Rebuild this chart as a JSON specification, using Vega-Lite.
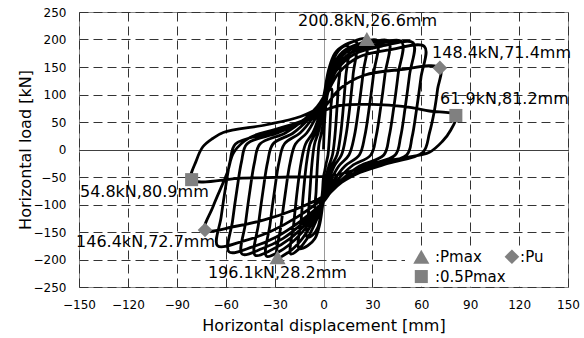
{
  "$schema": "https://vega.github.io/schema/vega-lite/v6.json",
  "width": 489,
  "height": 275,
  "autosize": {"type": "none"},
  "padding": {"left": 79, "top": 12, "right": 16, "bottom": 51},
  "background": "white",
  "config": {
    "view": {"stroke": "#888", "strokeWidth": 1},
    "font": "DejaVu Sans",
    "axis": {"labelOverlap": false, "labelFlush": false, "labelBound": false, "ticks": false, "domain": false,
      "grid": true, "gridWidth": 1,
      "labelFontSize": 12, "labelColor": "black", "labelFont": "DejaVu Sans",
      "titleFont": "DejaVu Sans", "titleFontSize": 16, "titleFontWeight": "normal", "titleColor": "black"}
  },
  "datasets": {
    "loop": [
      {"x":0,"y":0},{"x":0.75,"y":55},{"x":1.75,"y":88},{"x":3.25,"y":107},{"x":5,"y":110},
      {"x":4.55,"y":77},{"x":4,"y":42},{"x":3.4,"y":13},{"x":2.75,"y":-10},{"x":1.65,"y":-25},{"x":0.8,"y":-38},{"x":0,"y":-50},
      {"x":-0.75,"y":-80},{"x":-1.75,"y":-98},{"x":-3.25,"y":-107},{"x":-5,"y":-110},
      {"x":-4.55,"y":-77},{"x":-4,"y":-42},{"x":-3.4,"y":-13},{"x":-2.75,"y":10},{"x":-1.65,"y":25},{"x":-0.8,"y":38},{"x":0,"y":50},

      {"x":1.5,"y":107},{"x":3.5,"y":142},{"x":6.5,"y":160},{"x":10,"y":165},
      {"x":9.1,"y":115},{"x":8,"y":63},{"x":6.85,"y":20},{"x":5.5,"y":-10},{"x":3.3,"y":-30},{"x":1.65,"y":-50},{"x":0.55,"y":-62},{"x":0,"y":-70},
      {"x":-1.5,"y":-115},{"x":-3.5,"y":-142},{"x":-6.5,"y":-155},{"x":-10,"y":-160},
      {"x":-9.1,"y":-112},{"x":-8,"y":-61},{"x":-6.85,"y":-19},{"x":-5.5,"y":10},{"x":-3.3,"y":30},{"x":-1.65,"y":50},{"x":-0.55,"y":62},{"x":0,"y":70},

      {"x":2.25,"y":129},{"x":5.25,"y":164},{"x":9.75,"y":182},{"x":15,"y":188},
      {"x":13.65,"y":132},{"x":12,"y":71},{"x":10.3,"y":23},{"x":8.25,"y":-10},{"x":4.95,"y":-30},{"x":2.5,"y":-55},{"x":0.8,"y":-75},{"x":0,"y":-90},
      {"x":-2.25,"y":-135},{"x":-5.25,"y":-162},{"x":-9.75,"y":-175},{"x":-15,"y":-180},
      {"x":-13.65,"y":-126},{"x":-12,"y":-68},{"x":-10.3,"y":-22},{"x":-8.25,"y":10},{"x":-4.95,"y":30},{"x":-2.5,"y":55},{"x":-0.8,"y":75},{"x":0,"y":90},

      {"x":3,"y":143},{"x":7,"y":175},{"x":13,"y":190},{"x":20,"y":196},
      {"x":18.2,"y":137},{"x":16,"y":74},{"x":13.7,"y":24},{"x":11,"y":-10},{"x":6.6,"y":-30},{"x":3.3,"y":-55},{"x":1.1,"y":-78},{"x":0,"y":-95},
      {"x":-5,"y":-133},{"x":-10,"y":-162},{"x":-15,"y":-180.5},{"x":-20,"y":-190},
      {"x":-18.2,"y":-133},{"x":-16,"y":-72},{"x":-13.7,"y":-23},{"x":-11,"y":10},{"x":-6.6,"y":30},{"x":-3.3,"y":55},{"x":-1.1,"y":78},{"x":0,"y":95},

      {"x":4,"y":148},{"x":9.3,"y":180},{"x":17.3,"y":195},{"x":26.6,"y":200.8},
      {"x":24.4,"y":141},{"x":21.6,"y":76},{"x":18.9,"y":24},{"x":15.6,"y":-10},{"x":9.4,"y":-30},{"x":4.7,"y":-55},{"x":1.6,"y":-78},{"x":0,"y":-95},
      {"x":-7.05,"y":-135},{"x":-14.1,"y":-166},{"x":-21.15,"y":-186},{"x":-28.2,"y":-196.1},
      {"x":-26,"y":-137},{"x":-23.2,"y":-75},{"x":-20.5,"y":-24},{"x":-17.2,"y":10},{"x":-10.3,"y":30},{"x":-5.2,"y":55},{"x":-1.7,"y":78},{"x":0,"y":95},

      {"x":5,"y":147},{"x":11.6,"y":177},{"x":21.5,"y":192},{"x":33,"y":198},
      {"x":30.8,"y":139},{"x":28,"y":75},{"x":25.3,"y":24},{"x":22,"y":-10},{"x":13.2,"y":-30},{"x":6.6,"y":-55},{"x":2.2,"y":-78},{"x":0,"y":-95},
      {"x":-8.75,"y":-135},{"x":-17.5,"y":-164},{"x":-26.25,"y":-184},{"x":-35,"y":-194},
      {"x":-32.8,"y":-136},{"x":-30,"y":-74},{"x":-27.3,"y":-23},{"x":-24,"y":10},{"x":-14.4,"y":30},{"x":-7.2,"y":55},{"x":-2.4,"y":78},{"x":0,"y":95},

      {"x":6,"y":146},{"x":14,"y":177},{"x":26,"y":191},{"x":40,"y":197},
      {"x":37.8,"y":138},{"x":35,"y":75},{"x":32.3,"y":24},{"x":29,"y":-10},{"x":17.4,"y":-30},{"x":8.7,"y":-55},{"x":2.9,"y":-78},{"x":0,"y":-95},
      {"x":-10.5,"y":-134},{"x":-21,"y":-163},{"x":-31.5,"y":-182},{"x":-42,"y":-192},
      {"x":-39.8,"y":-134},{"x":-37,"y":-73},{"x":-34.3,"y":-23},{"x":-31,"y":10},{"x":-18.6,"y":30},{"x":-9.3,"y":55},{"x":-3.1,"y":78},{"x":0,"y":95},

      {"x":7.2,"y":146},{"x":16.8,"y":176},{"x":31.2,"y":190},{"x":48,"y":196},
      {"x":45.8,"y":137},{"x":43,"y":74},{"x":40.3,"y":24},{"x":37,"y":-10},{"x":22.2,"y":-30},{"x":11.1,"y":-55},{"x":3.7,"y":-78},{"x":0,"y":-95},
      {"x":-12.5,"y":-133},{"x":-25,"y":-162},{"x":-37.5,"y":-180},{"x":-50,"y":-190},
      {"x":-47.8,"y":-133},{"x":-45,"y":-72},{"x":-42.3,"y":-23},{"x":-39,"y":10},{"x":-23.4,"y":30},{"x":-11.7,"y":55},{"x":-3.9,"y":78},{"x":0,"y":95},

      {"x":8.3,"y":145},{"x":19.3,"y":174},{"x":35.8,"y":188},{"x":55,"y":194},
      {"x":52.8,"y":136},{"x":50,"y":74},{"x":47.3,"y":23},{"x":44,"y":-10},{"x":26.4,"y":-30},{"x":13.2,"y":-55},{"x":4.4,"y":-78},{"x":0,"y":-95},
      {"x":-14.5,"y":-131},{"x":-29,"y":-159},{"x":-43.5,"y":-177},{"x":-58,"y":-186},
      {"x":-55.8,"y":-130},{"x":-53,"y":-71},{"x":-50.3,"y":-22},{"x":-47,"y":10},{"x":-28.2,"y":30},{"x":-14.1,"y":50},{"x":-4.7,"y":72},{"x":0,"y":90},

      {"x":9.3,"y":139},{"x":21.7,"y":168},{"x":40.3,"y":181},{"x":62,"y":187},
      {"x":59.8,"y":131},{"x":57,"y":71},{"x":54.3,"y":22},{"x":51,"y":-10},{"x":30.6,"y":-30},{"x":15.3,"y":-50},{"x":5.1,"y":-72},{"x":0,"y":-88},
      {"x":-16.25,"y":-123},{"x":-32.5,"y":-149},{"x":-48.75,"y":-166},{"x":-65,"y":-175},
      {"x":-62.8,"y":-123},{"x":-60,"y":-67},{"x":-57.3,"y":-21},{"x":-54,"y":10},{"x":-32.4,"y":30},{"x":-16.2,"y":45},{"x":-5.4,"y":62},{"x":0,"y":75},

      {"x":10.7,"y":112},{"x":25,"y":135},{"x":46.4,"y":145},{"x":71.4,"y":148.4},
      {"x":70,"y":110},{"x":68,"y":70},{"x":65,"y":30},{"x":61,"y":-5},{"x":40,"y":-25},{"x":20,"y":-45},{"x":6,"y":-70},{"x":0,"y":-85},
      {"x":-18.2,"y":-110},{"x":-36.4,"y":-128},{"x":-54.5,"y":-140},{"x":-72.7,"y":-146.4},
      {"x":-67.8,"y":-104},{"x":-59,"y":-42},{"x":-55,"y":-5},{"x":-45,"y":22},{"x":-30,"y":36},{"x":-15,"y":50},{"x":-5,"y":62},{"x":0,"y":70},

      {"x":10,"y":80},{"x":30,"y":82},{"x":50,"y":78},{"x":65,"y":70},{"x":81.2,"y":61.9},
      {"x":78,"y":35},{"x":73,"y":15},{"x":65,"y":-5},{"x":50,"y":-15},{"x":33,"y":-24},{"x":16,"y":-40},{"x":5,"y":-48},{"x":-20,"y":-50},{"x":-50,"y":-52},{"x":-80.9,"y":-54.8},
      {"x":-78,"y":-20},{"x":-74,"y":5},{"x":-68,"y":20},{"x":-61.5,"y":31},{"x":-35,"y":45},{"x":-14,"y":60},{"x":0,"y":80}
    ],
    "marks": [
      {"x":26.6,"y":200.8,"s":"Pmax"},
      {"x":-28.2,"y":-196.1,"s":"Pmax"},
      {"x":71.4,"y":148.4,"s":"Pu"},
      {"x":-72.7,"y":-146.4,"s":"Pu"},
      {"x":81.2,"y":61.9,"s":"0.5Pmax"},
      {"x":-80.9,"y":-54.8,"s":"0.5Pmax"},
      {"x":60,"y":-195,"s":"Pmax"},
      {"x":115.6,"y":-195,"s":"Pu"},
      {"x":60,"y":-231,"s":"0.5Pmax"}
    ],
    "labels": [
      {"x":-15.6,"y":233,"t":"200.8kN,26.6mm"},
      {"x":66.6,"y":176,"t":"148.4kN,71.4mm"},
      {"x":71.5,"y":91,"t":"61.9kN,81.2mm"},
      {"x":-149.4,"y":-78,"t":"54.8kN,80.9mm"},
      {"x":-151.8,"y":-169,"t":"146.4kN,72.7mm"},
      {"x":-70.9,"y":-224,"t":"196.1kN,28.2mm"}
    ],
    "legendText": [
      {"x":68.4,"y":-195,"t":":Pmax"},
      {"x":120.6,"y":-195,"t":":Pu"},
      {"x":68.4,"y":-231,"t":":0.5Pmax"}
    ]
  },
  "encoding": {
    "x": {"field": "x", "type": "quantitative", "scale": {"domain": [-150, 150], "nice": false},
      "axis": {"values": [-150,-120,-90,-60,-30,0,30,60,90,120,150], "title": "Horizontal displacement [mm]",
        "labelPadding": 12, "titleX": 244.5, "titleY": 38, "titleBaseline": "middle",
        "gridDash": {"condition": {"test": "datum.value === 0", "value": [1, 0]}, "value": [9, 5]},
        "gridColor": {"condition": {"test": "datum.value === 0", "value": "#777"}, "value": "#333"}}},
    "y": {"field": "y", "type": "quantitative", "scale": {"domain": [-250, 250], "nice": false},
      "axis": {"values": [-250,-200,-150,-100,-50,0,50,100,150,200,250], "title": "Horizontal load [kN]",
        "labelPadding": 13, "titleX": -54, "titleY": 137.5, "titleBaseline": "middle", "titleAngle": -90, "titleAlign": "center",
        "gridDash": {"condition": {"test": "datum.value === 0", "value": [1, 0]}, "value": [9, 5]},
        "gridColor": {"condition": {"test": "datum.value === 0", "value": "#000"}, "value": "#333"}}}
  },
  "layer": [
    {
      "data": {"values": [{"x":50,"x2":149.5,"y":-249.5,"y2":-182}]},
      "mark": {"type": "rect", "fill": "white"},
      "encoding": {"x2": {"field": "x2"}, "y2": {"field": "y2"}}
    },
    {
      "data": {"name": "loop"},
      "mark": {"type": "line", "color": "black", "strokeWidth": 2.8, "strokeJoin": "round", "interpolate": "catmull-rom"},
      "encoding": {"order": {"value": null}}
    },
    {
      "data": {"name": "marks"},
      "mark": {"type": "point", "filled": true, "opacity": 1, "color": "#808080"},
      "encoding": {
        "shape": {"field": "s", "type": "nominal", "scale": {"domain": ["Pmax", "Pu", "0.5Pmax"], "range": ["triangle-up", "diamond", "square"]}, "legend": null},
        "size": {"field": "s", "type": "ordinal", "scale": {"domain": ["Pmax", "Pu", "0.5Pmax"], "range": [260, 170, 130]}, "legend": null}
      }
    },
    {
      "data": {"name": "labels"},
      "mark": {"type": "text", "align": "left", "baseline": "middle", "font": "DejaVu Sans", "fontSize": 16, "color": "black"},
      "encoding": {"text": {"field": "t"}}
    },
    {
      "data": {"name": "legendText"},
      "mark": {"type": "text", "align": "left", "baseline": "middle", "font": "DejaVu Sans", "fontSize": 15, "color": "black"},
      "encoding": {"text": {"field": "t"}}
    }
  ]
}
